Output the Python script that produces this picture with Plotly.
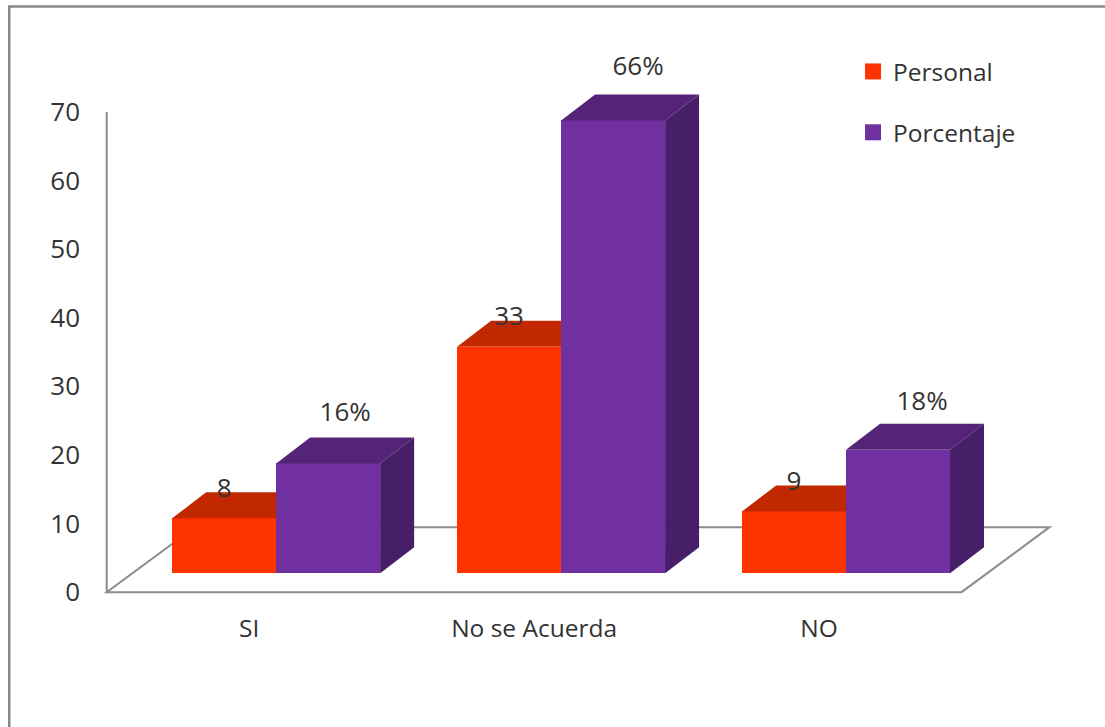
import plotly.graph_objects as go

# Survey results
categories = ["SI", "No se Acuerda", "NO"]
personal = [8, 33, 9]
porcentaje = [16, 66, 18]
porcentaje_labels = ["16%", "66%", "18%"]
y_ticks = [0, 10, 20, 30, 40, 50, 60, 70]

# Canvas and scale
WIDTH, HEIGHT = 1105, 727
PX_X = 285.0          # pixels per category
PX_Y = 6.857          # pixels per value unit
ZERO_PX_Y = 592       # vertical pixel of value 0
CAT0_PX_X = 249       # horizontal pixel of the first category tick

# Pseudo-3D geometry, in axis units
BAR_W = 104 / PX_X
BAR_SHIFT = 27 / PX_X     # bars stand a little behind the front edge of the floor
BAR_BASE = 19 / PX_Y
DEPTH_X = 34 / PX_X       # receding offset of each bar
DEPTH_Y = 26 / PX_Y
FLOOR_X = 88 / PX_X       # receding offset of the floor
FLOOR_Y = 65 / PX_Y

# Label nudges in pixels
PERSONAL_LABEL_DY = 2
PORCENTAJE_LABEL_DX = [17, 25, 24]
PORCENTAJE_LABEL_DY = [23, 26, 20]

X_MIN, Y_MIN = -0.52, -1.0
left_margin = CAT0_PX_X + X_MIN * PX_X
bottom_margin = HEIGHT - (ZERO_PX_Y - Y_MIN * PX_Y)
x_max = (WIDTH - CAT0_PX_X) / PX_X
y_max = ZERO_PX_Y / PX_Y

FONT = "Open Sans"
TEXT = "#333333"
AXIS = "#8c8c8c"
RED, RED_TOP = "#FF3300", "#C22800"
PURPLE, PURPLE_TOP, PURPLE_SIDE = "#7030A0", "#552478", "#461F68"


def face(fig, xs, ys, color):
    fig.add_trace(go.Scatter(
        x=xs, y=ys, mode="lines", fill="toself", fillcolor=color,
        line=dict(width=0), showlegend=False, hoverinfo="skip",
    ))


def add_front(fig, values, left_edges, color):
    # Front faces are real bars; the other faces follow from the same values.
    fig.add_trace(go.Bar(
        x=[x + BAR_W / 2 for x in left_edges], y=values, base=BAR_BASE, width=BAR_W,
        marker=dict(color=color, line=dict(width=0)), showlegend=False, hoverinfo="skip",
    ))


def add_legend_entry(fig, name, color):
    fig.add_trace(go.Scatter(
        x=[None], y=[None], mode="markers", name=name, legendgroup=name,
        marker=dict(symbol="square", size=16, color=color), hoverinfo="skip",
    ))


fig = go.Figure()
centers = list(range(len(categories)))
red_left = [c + BAR_SHIFT - BAR_W for c in centers]
purple_left = [c + BAR_SHIFT for c in centers]

add_front(fig, personal, red_left, RED)
add_front(fig, porcentaje, purple_left, PURPLE)

# Red tops stop at the purple front face standing beside them
for x0, v in zip(red_left, personal):
    y1 = BAR_BASE + v
    x1 = x0 + BAR_W
    face(fig, [x0, x1, x1, x0 + DEPTH_X, x0],
         [y1, y1, y1 + DEPTH_Y, y1 + DEPTH_Y, y1], RED_TOP)

for x0, v in zip(purple_left, porcentaje):
    y1 = BAR_BASE + v
    x1 = x0 + BAR_W
    face(fig, [x0, x1, x1 + DEPTH_X, x0 + DEPTH_X, x0],
         [y1, y1, y1 + DEPTH_Y, y1 + DEPTH_Y, y1], PURPLE_TOP)
    face(fig, [x1, x1 + DEPTH_X, x1 + DEPTH_X, x1, x1],
         [BAR_BASE, BAR_BASE + DEPTH_Y, y1 + DEPTH_Y, y1, BAR_BASE], PURPLE_SIDE)

# Value labels above each bar
fig.add_trace(go.Scatter(
    x=[x + BAR_W / 2 for x in red_left],
    y=[BAR_BASE + v + DEPTH_Y + PERSONAL_LABEL_DY / PX_Y for v in personal],
    text=[str(v) for v in personal], mode="text", textposition="middle center",
    textfont=dict(family=FONT, size=26, color=TEXT), showlegend=False, hoverinfo="skip",
))
fig.add_trace(go.Scatter(
    x=[x + BAR_W / 2 + dx / PX_X for x, dx in zip(purple_left, PORCENTAJE_LABEL_DX)],
    y=[BAR_BASE + v + DEPTH_Y + dy / PX_Y for v, dy in zip(porcentaje, PORCENTAJE_LABEL_DY)],
    text=porcentaje_labels, mode="text", textposition="middle center",
    textfont=dict(family=FONT, size=26, color=TEXT), showlegend=False, hoverinfo="skip",
))

add_legend_entry(fig, "Personal", RED)
add_legend_entry(fig, "Porcentaje", PURPLE)

# Floor parallelogram and value axis, beneath the bars
front_l, front_r = -0.5, len(categories) - 0.5
line = dict(color=AXIS, width=2)
floor_path = (
    f"M {front_l},0 L {front_r},0 L {front_r + FLOOR_X},{FLOOR_Y} "
    f"L {front_l + FLOOR_X},{FLOOR_Y} Z"
)
shapes = [
    dict(type="path", path=floor_path, xref="x", yref="y", line=line, layer="below"),
    dict(type="line", x0=front_l, x1=front_l, y0=0, y1=y_ticks[-1], xref="x", yref="y",
         line=line, layer="below"),
]

# Frame around the chart area: top and left sides
plot_w = WIDTH - left_margin
plot_h = HEIGHT - bottom_margin
px = lambda v: (v - left_margin) / plot_w
py = lambda v: (HEIGHT - bottom_margin - v) / plot_h
shapes.append(dict(
    type="path", xref="paper", yref="paper",
    path=f"M {px(9)},{py(HEIGHT)} L {px(9)},{py(6.5)} L {px(WIDTH)},{py(6.5)}",
    line=dict(color="#888888", width=2.5), layer="below",
))

fig.update_layout(
    width=WIDTH, height=HEIGHT, autosize=False,
    margin=dict(l=left_margin, r=0, t=0, b=bottom_margin, pad=0),
    paper_bgcolor="white", plot_bgcolor="white",
    barmode="overlay", bargap=0,
    font=dict(family=FONT, size=24, color=TEXT),
    shapes=shapes,
    xaxis=dict(
        range=[X_MIN, x_max], tickvals=centers, ticktext=categories,
        showgrid=False, zeroline=False, showline=False, ticks="",
        ticklabelstandoff=12, tickfont=dict(family=FONT, size=24.5, color=TEXT),
    ),
    yaxis=dict(
        range=[Y_MIN, y_max], tickvals=y_ticks,
        showgrid=False, zeroline=False, showline=False, ticks="",
        ticklabelstandoff=20, tickfont=dict(family=FONT, size=26, color=TEXT),
    ),
    legend=dict(
        x=px(853), y=py(49), xanchor="left", yanchor="top",
        bgcolor="rgba(0,0,0,0)", tracegroupgap=26,
        font=dict(family=FONT, size=24.5, color=TEXT),
    ),
    hovermode=False,
)

fig.write_html("out.html")
